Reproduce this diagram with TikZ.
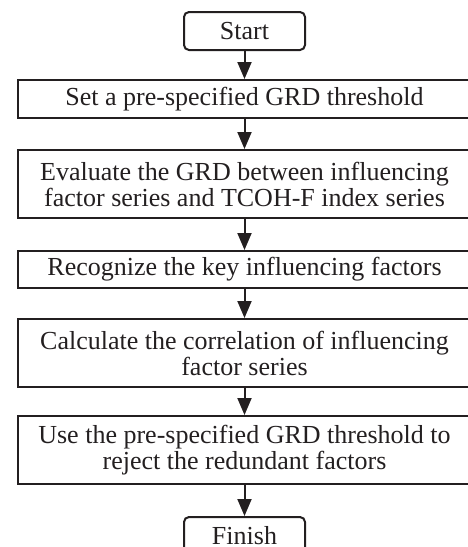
\documentclass[tikz,border=0pt]{standalone}
\usepackage{fontspec}
\setmainfont{Liberation Serif}
\usetikzlibrary{arrows.meta}
\definecolor{ink}{HTML}{231F20}
\begin{document}
\begin{tikzpicture}[x=1pt,y=1pt,
  base/.style={draw=ink, line width=2pt, text=ink, inner sep=0pt, align=center,
    font=\fontsize{26}{26}\selectfont},
  termbox/.style={base, rounded corners=5pt, minimum width=121pt, minimum height=38pt},
  procbox/.style={base, minimum width=453pt},
  conn/.style={draw=ink, line width=2pt, -{Triangle[width=14pt,length=17pt]}}]
\useasboundingbox (0,0) rectangle (468,-547);
\node[termbox] (start) at (244.5,-31) {Start};
\node[procbox, minimum height=38pt] (set) at (244.5,-99) {Set a pre-specified GRD threshold};
\node[procbox, minimum height=68pt] (eval) at (244.5,-184) {Evaluate the GRD between influencing\\factor series and TCOH-F index series};
\node[procbox, minimum height=37pt] (rec) at (244.5,-269.5) {Recognize the key influencing factors};
\node[procbox, minimum height=68pt] (calc) at (244.5,-353) {Calculate the correlation of influencing\\factor series};
\node[procbox, minimum height=68pt] (use) at (244.5,-450) {Use the pre-specified GRD threshold to\\reject the redundant factors};
\node[termbox] (fin) at (244.5,-536) {Finish};
\draw[conn] (start) -- (set);
\draw[conn] (set) -- (eval);
\draw[conn] (eval) -- (rec);
\draw[conn] (rec) -- (calc);
\draw[conn] (calc) -- (use);
\draw[conn] (use) -- (fin);
\end{tikzpicture}
\end{document}
